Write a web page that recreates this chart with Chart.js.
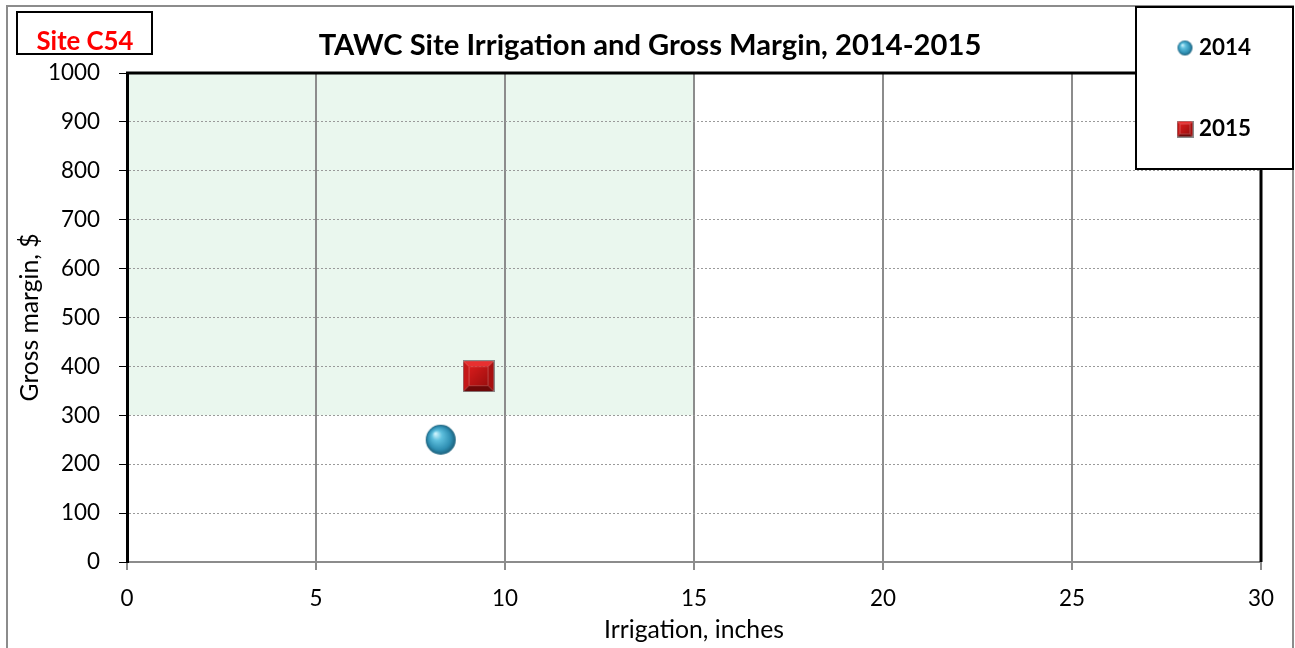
<!DOCTYPE html>
<html><head><meta charset="utf-8">
<script src="https://cdn.jsdelivr.net/npm/chart.js@4/dist/chart.umd.min.js"></script>
<style>html,body{margin:0;padding:0;background:#fff;}#wrap{width:1295px;height:648px;position:relative;}</style>
</head><body><div id="wrap"><canvas id="c" width="1295" height="648"></canvas></div>
<script>
const seriesNames = ['2014', '2015'];
const irrigation2014 = [8.3];
const margin2014 = [250];
const irrigation2015 = [9.3];
const margin2015 = [380];
const shadeX = [0, 15];
const shadeY = [300, 1000];
const xTicks = [0, 5, 10, 15, 20, 25, 30];
const yTicks = [0, 100, 200, 300, 400, 500, 600, 700, 800, 900, 1000];
const titleText = 'TAWC Site Irrigation and Gross Margin, 2014-2015';
const siteText = 'Site C54';
const xTitle = 'Irrigation, inches';
const yTitle = 'Gross margin, $';
const FONT = 'Lato, "Open Sans", sans-serif';

const mctx=document.createElement('canvas').getContext('2d');
function fit(text,weight,target){mctx.font=weight+' 100px '+FONT;return 100*target/mctx.measureText(text).width;}
const sTitle=fit(titleText,'bold',663);
const sSite=fit(siteText,'bold',97);
const sLeg=fit('2014','bold',52);
const sTick=fit('1000','normal',52);
const sXT=fit(xTitle,'normal',180);
const sYT=fit(yTitle,'normal',168);

function sphere(d){
  const c=document.createElement('canvas');c.width=d+2;c.height=d+2;
  const g=c.getContext('2d');const r=d/2,cx=r+1,cy=r+1;
  const gr=g.createRadialGradient(cx-r*0.35,cy-r*0.4,r*0.05,cx,cy,r);
  gr.addColorStop(0,'#c9f1fb');gr.addColorStop(0.3,'#5fc0de');gr.addColorStop(0.75,'#2f8fb3');gr.addColorStop(1,'#1b5f7a');
  g.fillStyle=gr;g.beginPath();g.arc(cx,cy,r,0,Math.PI*2);g.fill();
  return c;
}
function pyramid(s){
  const c=document.createElement('canvas');c.width=s;c.height=s;
  const g=c.getContext('2d');const b=s*0.2,i0=b,i1=s-b;
  const quad=(p,col)=>{g.fillStyle=col;g.beginPath();g.moveTo(p[0],p[1]);for(let k=2;k<p.length;k+=2)g.lineTo(p[k],p[k+1]);g.closePath();g.fill();};
  quad([0,0,s,0,i1,i0,i0,i0],'#e83030');
  quad([0,0,i0,i0,i0,i1,0,s],'#c41818');
  quad([s,0,s,s,i1,i1,i1,i0],'#a81010');
  quad([0,s,i0,i1,i1,i1,s,s],'#6e0808');
  const gr=g.createLinearGradient(i0,i0,i1,i1);gr.addColorStop(0,'#d81c1c');gr.addColorStop(1,'#9c0e0e');
  g.fillStyle=gr;g.fillRect(i0,i0,i1-i0,i1-i0);
  g.strokeStyle='#8a8a8a';g.lineWidth=1;g.strokeRect(0.5,0.5,s-1,s-1);
  return c;
}
const bigSphere=sphere(30), bigSquare=pyramid(32), smallSphere=sphere(15), smallSquare=pyramid(17);

const deco={
  id:'deco',
  beforeDraw(chart){
    const {ctx,scales:{x,y}}=chart;
    ctx.save();
    ctx.fillStyle='#eaf7ee';
    const x0=x.getPixelForValue(shadeX[0]),x1=x.getPixelForValue(shadeX[1]);
    const y0=y.getPixelForValue(shadeY[1]),y1=y.getPixelForValue(shadeY[0]);
    ctx.fillRect(x0,y0,x1-x0,y1-y0);
    ctx.restore();
  },
  afterDraw(chart){
    const {ctx,chartArea:a}=chart;
    ctx.save();
    ctx.strokeStyle='#8c8c8c';ctx.lineWidth=2;
    ctx.strokeRect(7,6,1286,650);
    ctx.strokeStyle='#000';ctx.lineWidth=3;
    ctx.beginPath();ctx.moveTo(a.left-1,a.top);ctx.lineTo(a.right,a.top);ctx.lineTo(a.right,a.bottom);ctx.stroke();
    ctx.fillStyle='#000';ctx.font='bold '+sTitle+'px '+FONT;ctx.textAlign='center';ctx.textBaseline='middle';
    ctx.fillText(titleText,650,46);
    ctx.fillStyle='#fff';ctx.fillRect(17,12,135,42);
    ctx.strokeStyle='#000';ctx.lineWidth=2;ctx.strokeRect(17,12,135,42);
    ctx.fillStyle='#ff0000';ctx.font='bold '+sSite+'px '+FONT;ctx.fillText(siteText,85,42);
    ctx.fillStyle='#fff';ctx.fillRect(1136,7,157,162);
    ctx.strokeStyle='#000';ctx.lineWidth=2;ctx.strokeRect(1136,7,157,162);
    ctx.drawImage(smallSphere,1185-8.5,48-8.5);
    ctx.drawImage(smallSquare,1185-8.5,129-8.5);
    ctx.fillStyle='#000';ctx.font='bold '+sLeg+'px '+FONT;ctx.textAlign='left';
    ctx.fillText(seriesNames[0],1199,48);
    ctx.fillText(seriesNames[1],1199,129);
    ctx.restore();
  }
};

new Chart(document.getElementById('c'),{
  type:'scatter',
  data:{datasets:[
    {label:seriesNames[0],data:irrigation2014.map((v,i)=>({x:v,y:margin2014[i]})),pointStyle:bigSphere,pointRadius:15},
    {label:seriesNames[1],data:irrigation2015.map((v,i)=>({x:v,y:margin2015[i]})),pointStyle:bigSquare,pointRadius:16}
  ]},
  options:{
    responsive:false,animation:false,
    layout:{padding:{top:73,right:34,left:0,bottom:0}},
    plugins:{legend:{display:false},tooltip:{enabled:false},title:{display:false}},
    scales:{
      x:{type:'linear',min:0,max:30,
        afterBuildTicks(s){s.ticks=xTicks.map(v=>({value:v}));},
        afterFit(s){s.height=86;},
        grid:{color:'#8c8c8c',lineWidth:2,tickLength:8,tickColor:'#8c8c8c'},
        border:{color:'#8c8c8c',width:2},
        ticks:{color:'#000',font:{family:FONT,size:sTick},padding:15,maxRotation:0,callback:v=>String(v)},
        title:{display:true,text:xTitle,color:'#000',font:{family:FONT,size:sXT},padding:{top:0,bottom:3}}
      },
      y:{type:'linear',min:0,max:1000,
        afterBuildTicks(s){s.ticks=yTicks.map(v=>({value:v}));},
        afterFit(s){s.width=127;},
        grid:{color:'#9a9a9a',lineWidth:1,tickLength:8,tickColor:'#000',tickBorderDash:[],tickWidth:1},
        border:{color:'#000',width:3,dash:[2,2]},
        ticks:{color:'#000',font:{family:FONT,size:sTick},padding:19,callback:v=>String(v)},
        title:{display:true,text:yTitle,color:'#000',font:{family:FONT,size:sYT},padding:{top:15,bottom:0}}
      }
    }
  },
  plugins:[deco]
});
</script></body></html>
